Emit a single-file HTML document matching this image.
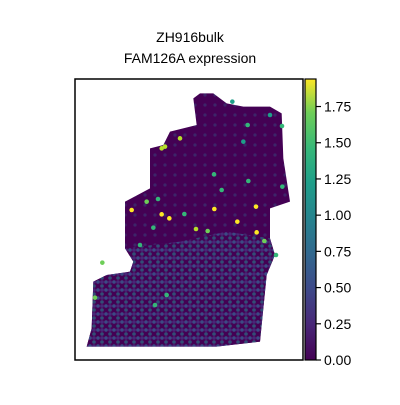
<!DOCTYPE html>
<html><head><meta charset="utf-8"><style>
body{margin:0;background:#fff;font-family:"Liberation Sans",sans-serif}
</style></head><body>
<svg width="400" height="400" viewBox="0 0 400 400">
<defs>
<linearGradient id="vir" x1="0" y1="1" x2="0" y2="0">
<stop offset="0" stop-color="#440154"/><stop offset="0.13" stop-color="#482878"/>
<stop offset="0.25" stop-color="#3e4989"/><stop offset="0.38" stop-color="#31688e"/>
<stop offset="0.5" stop-color="#26828e"/><stop offset="0.63" stop-color="#1f9e89"/>
<stop offset="0.75" stop-color="#35b779"/><stop offset="0.88" stop-color="#6ece58"/>
<stop offset="1" stop-color="#fde725"/></linearGradient>
<pattern id="mid" width="8" height="8" patternUnits="userSpaceOnUse">
<rect width="8" height="8" fill="#440154"/><circle cx="2" cy="2" r="1.8" fill="#3b528b" opacity="0.9"/><circle cx="6" cy="6" r="1.8" fill="#26828e" opacity="0.6"/><circle cx="6" cy="2" r="1.8" fill="#482878"/></pattern>
<pattern id="top" width="10" height="10" patternUnits="userSpaceOnUse">
<rect width="10" height="10" fill="#440154"/><circle cx="5" cy="5" r="1.6" fill="#31688e" opacity="0.35"/></pattern>
</defs>
<text x="190" y="42" text-anchor="middle" font-size="14">ZH916bulk</text>
<text x="190" y="63" text-anchor="middle" font-size="14">FAM126A expression</text>
<g id="tissue"></g>
<rect x="75" y="79" width="228" height="281" fill="none" stroke="#000" stroke-width="1.5"/>
<rect x="305" y="79" width="11" height="281" fill="url(#vir)" stroke="#000" stroke-width="1.2"/>
<g id="cbticks"></g>
</svg>
<script>
const outline=[[390,55],[430,55],[470,85],[520,95],[600,95],[635,115],[640,250],[660,380],[600,400],[600,490],[615,540],[590,600],[580,700],[570,800],[440,815],[50,815],[65,760],[70,620],[110,600],[180,590],[190,560],[165,520],[165,380],[240,340],[240,220],[280,210],[300,170],[380,150],[370,70]];
const midRegion=[[165,520],[330,500],[470,470],[600,490],[615,540],[590,600],[580,700],[570,800],[440,815],[50,815],[65,760],[70,620],[110,600],[180,590],[190,560]];
const spotX=[185,275,298,433,502,558,560,378,330,275,285,230,264,343,413,583,618,97,75,255,290,432,533,636,535,637,210,250,487,600,455,520];
const spotY=[405,418,430,402,440,395,472,462,190,220,215,380,372,417,468,498,540,563,668,690,660,298,150,153,318,335,510,458,80,120,345,200];
const spotV=[1.9,1.9,1.85,1.9,1.9,1.85,1.85,1.8,1.8,1.75,1.75,1.5,1.4,1.35,1.5,1.45,1.4,1.5,1.45,1.4,1.4,1.35,1.3,1.3,1.3,1.3,1.25,1.3,1.1,1.0,1.3,1.0];
const tickVals=[0,0.25,0.5,0.75,1.0,1.25,1.5,1.75];
const tickLabels=["0.00","0.25","0.50","0.75","1.00","1.25","1.50","1.75"];
const vmax=1.94;
const sx=x=>70+x/3, sy=y=>75+y/3;
const cy=v=>360-v/vmax*281;
const ns="http://www.w3.org/2000/svg";
const g=document.getElementById('tissue');
function poly(pts,fill,name){const p=document.createElementNS(ns,'polygon');
p.setAttribute('points',pts.map(q=>sx(q[0])+','+sy(q[1])).join(' '));p.setAttribute('fill',fill);


g.appendChild(p);}
poly(outline,'url(#top)','tissue-outline');
poly(midRegion,'url(#mid)','tissue-mid-expression');
const cols=["#440154","#482878","#3e4989","#31688e","#26828e","#1f9e89","#35b779","#6ece58","#b5de2b","#fde725"];
const col=v=>cols[Math.min(9,Math.round(v/vmax*9))];
for(let i=0;i<spotX.length;i++){const c=document.createElementNS(ns,'circle');
c.setAttribute('cx',sx(spotX[i]));c.setAttribute('cy',sy(spotY[i]));c.setAttribute('r',2.3);c.setAttribute('fill',col(spotV[i]));


g.appendChild(c);}
const t=document.getElementById('cbticks');
for(let i=0;i<tickVals.length;i++){const y=cy(tickVals[i]);
const l=document.createElementNS(ns,'line');l.setAttribute('x1',316);l.setAttribute('x2',321);l.setAttribute('y1',y);l.setAttribute('y2',y);l.setAttribute('stroke','#000');l.setAttribute('stroke-width',1.2);


t.appendChild(l);
const tx=document.createElementNS(ns,'text');tx.setAttribute('x',324);tx.setAttribute('y',y+5);tx.setAttribute('font-size',14);tx.textContent=tickLabels[i];


t.appendChild(tx);}
</script>
</body></html>
